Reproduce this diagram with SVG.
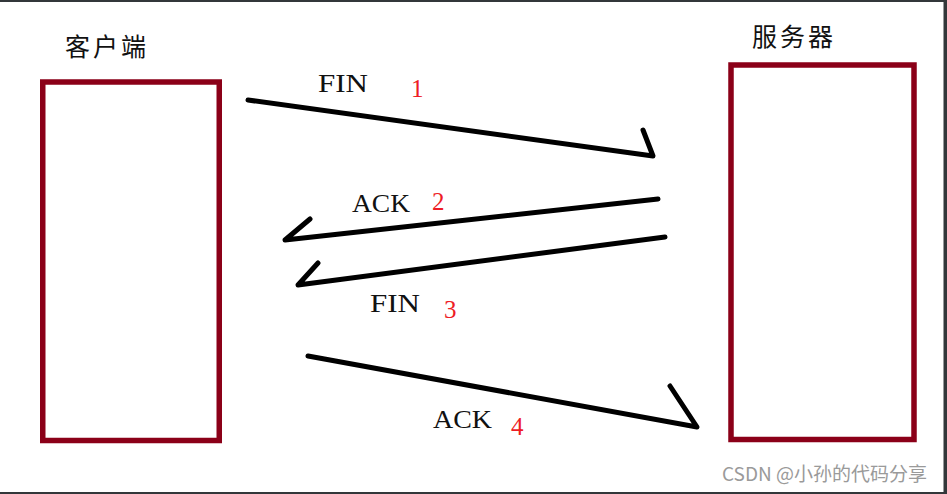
<svg xmlns="http://www.w3.org/2000/svg" width="947" height="494" viewBox="0 0 947 494">
<style>
.box{fill:#fff;stroke:#8b0018;stroke-width:5.5}
.arr{fill:none;stroke:#000;stroke-width:5;stroke-linecap:round;stroke-linejoin:round}
.lbl{font-family:"Liberation Serif","Times New Roman",serif;font-size:25px;fill:#111}
.num{font-family:"Liberation Serif","Times New Roman",serif;font-size:25px;fill:#ee1c25}
.cjk{font-family:"Noto Sans CJK SC","Noto Sans CJK JP",sans-serif;font-size:25px;fill:#111;letter-spacing:3px}
.wm{font-family:"Noto Sans CJK SC","Liberation Sans",sans-serif;font-size:19px;fill:#9a9a9a}
</style>
<rect x="0" y="0" width="947" height="494" fill="#fff"/>
<rect x="0" y="0" width="947" height="2" fill="#33373a"/>
<rect x="0" y="492" width="947" height="2" fill="#33373a"/>
<rect x="943.5" y="0" width="3.5" height="494" fill="#33373a"/>
<g id="client">
<rect class="box" x="42.75" y="82" width="176.5" height="358.5"/>
<text class="cjk" x="65" y="56">客户端</text>
</g>
<g id="server">
<rect class="box" x="731" y="65" width="183" height="374.5"/>
<text class="cjk" x="752" y="46">服务器</text>
</g>
<g id="connectors">
<path class="arr" d="M248,100 L653,156 L643,130"/>
<path class="arr" d="M658,199 L285,240 L310,219"/>
<path class="arr" d="M665,237 L298,285 L318,263"/>
<path class="arr" d="M308,356 L697,427 L670,386"/>
</g>
<g id="labels">
<text class="lbl" x="318" y="92" textLength="50" lengthAdjust="spacingAndGlyphs">FIN</text>
<text class="num" x="411" y="97">1</text>
<text class="lbl" x="352" y="212" textLength="58" lengthAdjust="spacingAndGlyphs">ACK</text>
<text class="num" x="432" y="210">2</text>
<text class="lbl" x="370" y="312" textLength="50" lengthAdjust="spacingAndGlyphs">FIN</text>
<text class="num" x="444" y="318">3</text>
<text class="lbl" x="433" y="428" textLength="59" lengthAdjust="spacingAndGlyphs">ACK</text>
<text class="num" x="511" y="435">4</text>
</g>
<text class="wm" x="722" y="481">CSDN @小孙的代码分享</text>
</svg>
